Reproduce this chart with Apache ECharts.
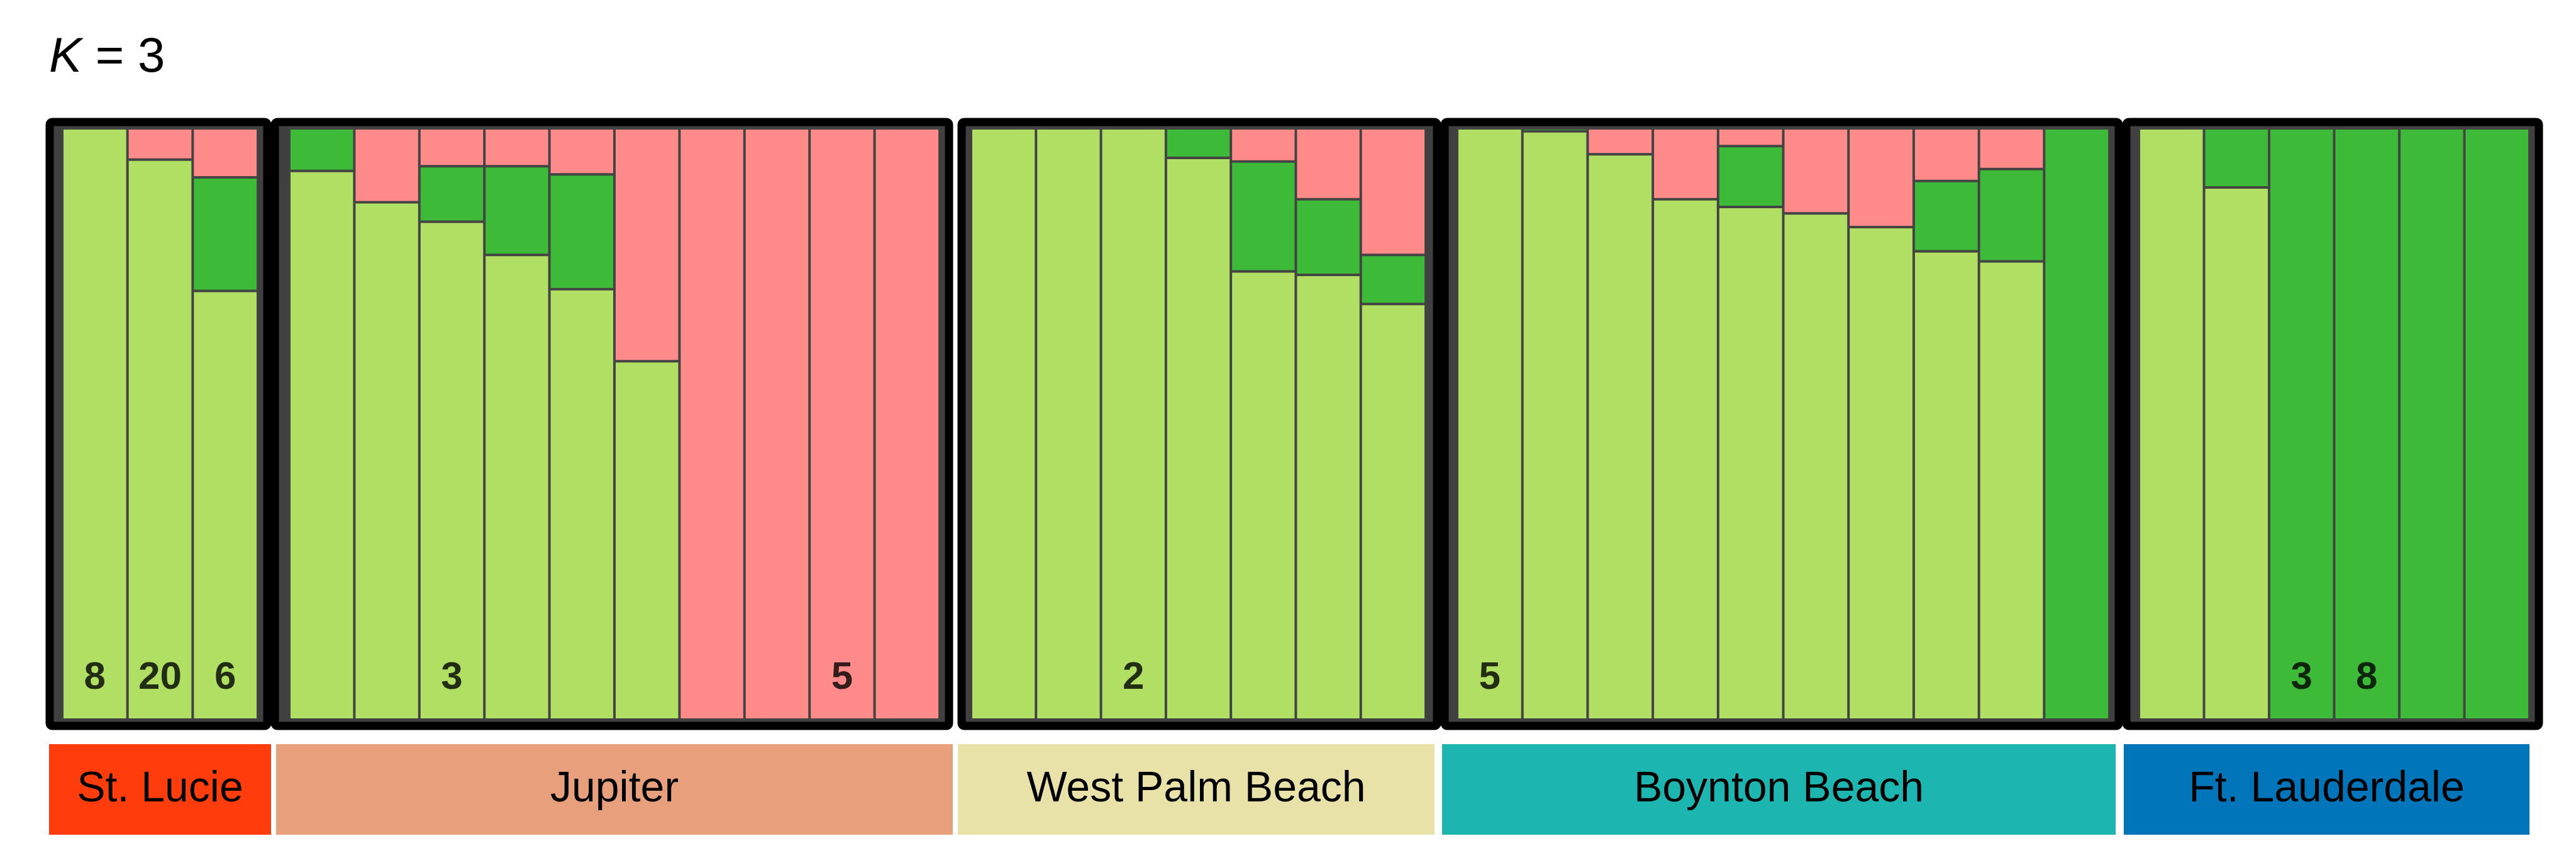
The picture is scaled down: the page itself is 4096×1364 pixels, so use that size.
<!DOCTYPE html>
<html><head><meta charset="utf-8">
<script src="https://cdn.jsdelivr.net/npm/echarts@6/dist/echarts.min.js"></script>
<style>html,body{margin:0;padding:0;background:#fff}#c{width:4096px;height:1364px}</style>
</head><body><div id="c"></div>
<script>
const populations = ['St. Lucie','Jupiter','West Palm Beach','Boynton Beach','Ft. Lauderdale'];
const popSizes = [3,10,7,10,6];
const popColors = ['#FF3D0C','#E8A07C','#E8E2A8','#1DB5B0','#0075BA'];
const lightGreen = [1,0.947,0.725, 0.928,0.875,0.842,0.786,0.728,0.606,0,0,0,0, 1,1,1,0.95,0.758,0.752,0.703, 1,0.995,0.956,0.88,0.867,0.856,0.833,0.792,0.775,0, 1,0.9,0,0,0,0];
const darkGreen  = [0,0,0.192, 0.072,0,0.094,0.15,0.194,0,0,0,0,0, 0,0,0,0.05,0.186,0.128,0.083, 0,0.005,0,0,0.103,0,0,0.119,0.156,1, 0,0.1,1,1,1,1];
const pink       = [0,0.053,0.083, 0,0.125,0.064,0.064,0.078,0.394,1,1,1,1, 0,0,0,0,0.056,0.12,0.214, 0,0,0.044,0.12,0.03,0.144,0.167,0.089,0.069,0, 0,0,0,0,0,0];
const sampleLabels = ['8','20','6', '','','3','','','','','','5','', '','','2','','','','', '5','','','','','','','','','', '','','3','8','',''];

(function(){
const barsX = [[99,410],[460,1494],[1544,2267],[2317,3354],[3401,4022]];
const boxX = [[73,431],[431,1515],[1523,2291],[2291,3375],[3375,4043]];
const labX = [[78,431],[439,1515],[1523,2281],[2293,3364],[3377,4022]];
const plotTop=204, plotBottom=1144;
const colL='#B0DF64', colD='#3DBB38', colP='#FF8A8A';

const grids=[],xAxes=[],yAxes=[],series=[],graphics=[];
let off=0;
populations.forEach((p,g)=>{
  const n=popSizes[g];
  const cats=[];for(let i=0;i<n;i++)cats.push(String(off+i));
  grids.push({left:barsX[g][0],width:barsX[g][1]-barsX[g][0],top:plotTop,height:plotBottom-plotTop,containLabel:false});
  xAxes.push({type:'category',gridIndex:g,data:cats,show:false,boundaryGap:true});
  yAxes.push({type:'value',gridIndex:g,min:0,max:1,show:false});
  const sl=(a)=>a.slice(off,off+n);
  const bs={type:'bar',stack:'s'+g,xAxisIndex:g,yAxisIndex:g,barCategoryGap:'0%',barGap:'0%',z:5};
  series.push(Object.assign({},bs,{data:sl(lightGreen),itemStyle:{color:colL,borderColor:'#444',borderWidth:2}}));
  series.push(Object.assign({},bs,{data:sl(darkGreen),itemStyle:{color:colD,borderColor:'#444',borderWidth:2}}));
  series.push(Object.assign({},bs,{data:sl(pink),itemStyle:{color:colP,borderColor:'#444',borderWidth:2}}));
  series.push({type:'scatter',xAxisIndex:g,yAxisIndex:g,symbolSize:0,z:10,
    data:sl(sampleLabels).map((t,i)=>t?{value:[i,0.07],label:{show:true,formatter:t}}:null).filter(Boolean),
    label:{show:true,position:'inside',color:'#000',fontWeight:'bold',fontSize:62,fontFamily:'Liberation Sans, Arial'}});
  graphics.push({type:'rect',z:0,shape:{x:boxX[g][0]+6,y:188+6,width:boxX[g][1]-boxX[g][0]-12,height:1160-188-12,r:4},
    style:{fill:'#404040',stroke:'#000',lineWidth:13}});
  graphics.push({type:'rect',z:0,shape:{x:labX[g][0],y:1183,width:labX[g][1]-labX[g][0],height:144},style:{fill:popColors[g]}});
  graphics.push({type:'text',z:1,x:(labX[g][0]+labX[g][1])/2,y:1255,
    style:{text:p,fill:'#000',font:'68px "Liberation Sans", Arial',align:'center',verticalAlign:'middle'}});
  off+=n;
});
graphics.push({type:'text',x:78,y:92,style:{rich:{i:{fontStyle:'italic',fontSize:78,fontFamily:'Liberation Sans'},n:{fontSize:78,fontFamily:'Liberation Sans'}},text:'{i|K}{n| = 3}',fill:'#000',verticalAlign:'middle'}});

const chart=echarts.init(document.getElementById('c'));
chart.setOption({animation:false,backgroundColor:'#fff',grid:grids,xAxis:xAxes,yAxis:yAxes,series:series,graphic:graphics});
})();
</script></body></html>
